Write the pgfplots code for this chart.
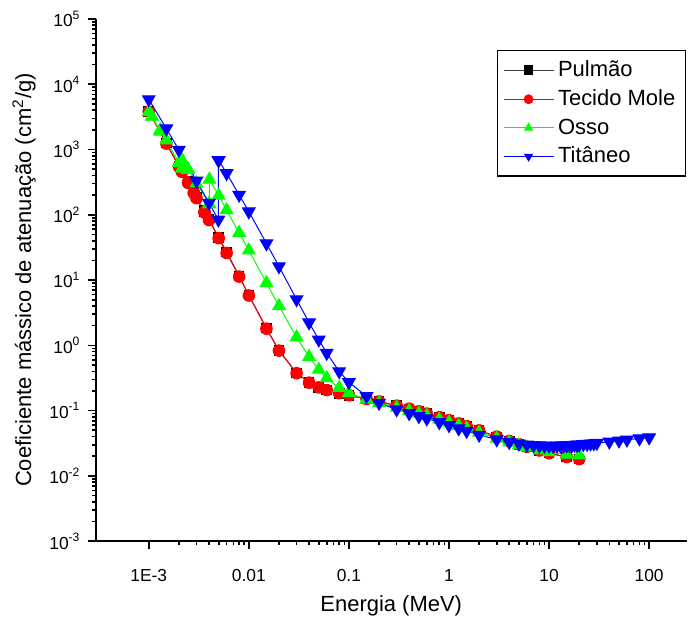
\documentclass[border=0pt]{standalone}
\usepackage{fontspec}
\setmainfont{Liberation Sans}
\usepackage{pgfplots}
\pgfplotsset{compat=1.18}
\definecolor{tiblue}{HTML}{0000FF}
\definecolor{osgreen}{HTML}{00FF00}
\definecolor{tmred}{HTML}{FF0000}

% energia (MeV), coeficiente (cm2/g)
\begin{document}
\begin{tikzpicture}
\begin{axis}[
    scale only axis,
    width=296.2pt, height=261.5pt,
    xmode=log, ymode=log,
    xmin=2.94e-4, xmax=239,
    ymin=1e-3, ymax=1e5,
    axis lines*=left,
    axis line style={line width=1pt},
    tick align=outside,
    tick style={black, line width=0.8pt},
    major tick length=4pt, minor tick length=2pt,
    xtick={1e-3,1e-2,1e-1,1,10,100},
    xticklabels={1E-3,0.01,0.1,1,10,100},
    ytick={1e-3,1e-2,1e-1,1,10,100,1e3,1e4,1e5},
    yticklabels={10\textsuperscript{-3},10\textsuperscript{-2},10\textsuperscript{-1},10\textsuperscript{0},10\textsuperscript{1},10\textsuperscript{2},10\textsuperscript{3},10\textsuperscript{4},10\textsuperscript{5}},
    ticklabel style={font=\fontsize{8.7}{10}\selectfont},
    xticklabel style={yshift=-6.5pt},
    label style={font=\fontsize{11}{13}\selectfont},
    xlabel={Energia (MeV)},
    ylabel={Coeficiente mássico de atenuação (cm\textsuperscript{2}/g)},
    every axis plot/.append style={line width=0.5pt},
    legend style={at={(0.998,0.94)}, anchor=north east, draw=black, line width=0.6pt,
        font=\fontsize{11}{13}\selectfont, row sep=1pt, inner sep=3pt},
    legend cell align=left,
    legend image code/.code={\draw[mark repeat=2,mark phase=2,mark size=2.2pt] plot coordinates {(0pt,0pt) (12.5pt,0pt) (25pt,0pt)};},
]
\addplot[black!75, mark=square*, mark size=2.4pt, mark options={fill=black, draw=black}] coordinates {
(0.001,3850) (0.0015,1250) (0.002,560) (0.0021455,470) (0.0021455,478) (0.002472,318) (0.002472,324)
(0.0028224,222) (0.0028224,226) (0.003,186) (0.0036074,112) (0.0036074,116) (0.004,86)
(0.005,45) (0.006,27) (0.008,11.6) (0.01,5.9) (0.015,1.83) (0.02,0.84) (0.03,0.377)
(0.04,0.269) (0.05,0.227) (0.06,0.206) (0.08,0.184) (0.1,0.171) (0.15,0.150) (0.2,0.137)
(0.3,0.119) (0.4,0.106) (0.5,0.0970) (0.6,0.0897) (0.8,0.0787) (1,0.0708) (1.25,0.0633)
(1.5,0.0576) (2,0.0494) (3,0.0397) (4,0.0341) (5,0.0304) (6,0.0278) (8,0.0244)
(10,0.0223) (15,0.0195) (20,0.0182)};
\addlegendentry{Pulmão}
\addplot[tmred, mark=*, mark size=2.9pt, mark options={fill=tmred, draw=tmred}] coordinates {
(0.001,3800) (0.0015,1231) (0.002,550) (0.0021455,455) (0.0021455,460) (0.002472,308) (0.002472,313)
(0.0028224,215) (0.0028224,218) (0.003,180) (0.0036074,108) (0.0036074,111) (0.004,83)
(0.005,44) (0.006,26) (0.008,11.3) (0.01,5.8) (0.015,1.80) (0.02,0.83) (0.03,0.374)
(0.04,0.268) (0.05,0.227) (0.06,0.206) (0.08,0.185) (0.1,0.172) (0.15,0.151) (0.2,0.138)
(0.3,0.119) (0.4,0.107) (0.5,0.0974) (0.6,0.0901) (0.8,0.0791) (1,0.0712) (1.25,0.0636)
(1.5,0.0579) (2,0.0497) (3,0.0399) (4,0.0342) (5,0.0305) (6,0.0279) (8,0.0245)
(10,0.0222) (15,0.0194) (20,0.0181)};
\addlegendentry{Tecido Mole}
\addplot[osgreen, mark=triangle*, mark size=3.6pt, mark options={fill=osgreen, draw=osgreen}] coordinates {
(0.001,3781) (0.0010721,3200) (0.0010721,3220) (0.001305,1890) (0.001305,2000) (0.0015,1390)
(0.002,620) (0.0021455,510) (0.0021455,700) (0.002472,490) (0.002472,500) (0.003,303)
(0.004,149) (0.0040381,145) (0.0040381,347) (0.005,198) (0.006,118) (0.008,53)
(0.01,28.5) (0.015,9.03) (0.02,4.00) (0.03,1.33) (0.04,0.666) (0.05,0.424) (0.06,0.315)
(0.08,0.223) (0.1,0.186) (0.15,0.148) (0.2,0.131) (0.3,0.111) (0.4,0.0991) (0.5,0.0902)
(0.6,0.0833) (0.8,0.0731) (1,0.0657) (1.25,0.0587) (1.5,0.0535) (2,0.0461) (3,0.0375)
(4,0.0326) (5,0.0295) (6,0.0273) (8,0.0247) (10,0.0231) (15,0.0213) (20,0.0207)};
\addlegendentry{Osso}
\addplot[tiblue, mark=triangle*, mark size=3.6pt, mark options={fill=tiblue, draw=tiblue, rotate=180}] coordinates {
(0.001,5869) (0.0015,2096) (0.002,987) (0.003,332) (0.004,152) (0.004966,84) (0.004966,688)
(0.005,684) (0.006,432) (0.008,202) (0.01,112) (0.015,36.3) (0.02,16.2) (0.03,5.06)
(0.04,2.23) (0.05,1.22) (0.06,0.763) (0.08,0.398) (0.1,0.272) (0.15,0.166) (0.2,0.131)
(0.3,0.104) (0.4,0.0909) (0.5,0.0820) (0.6,0.0755) (0.8,0.0661) (1,0.0595) (1.25,0.0532)
(1.5,0.0486) (2,0.0425) (3,0.0361) (4,0.0329) (5,0.0311) (6,0.0301) (7,0.0295) (8,0.0291)
(9,0.0289) (10,0.0288) (11,0.0288) (12,0.0289) (13,0.0290) (14,0.0291) (15,0.0292)
(16,0.0294) (17,0.0296) (18,0.0297) (19,0.0299) (20,0.0301) (22,0.0305) (24,0.0308)
(26,0.0312) (28,0.0315) (30,0.0319) (40,0.0334) (50,0.0347) (60,0.0358) (80,0.0374)
(100,0.0387)};
\addlegendentry{Titâneo}
\end{axis}
\path ([shift={(-47.85pt,-37.5pt)}]current axis.south west) rectangle ([shift={(0pt,9.5pt)}]current axis.north east);
\end{tikzpicture}
\end{document}
